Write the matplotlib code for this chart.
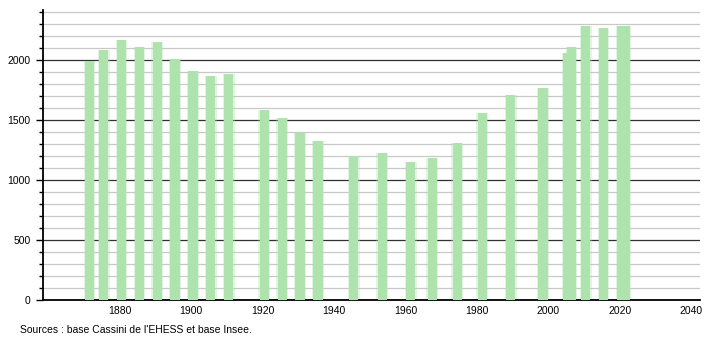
import matplotlib.pyplot as plt
from matplotlib.ticker import MultipleLocator

plt.rcParams['font.family'] = ['Liberation Sans', 'DejaVu Sans']

# census years and population
years = [1872, 1876, 1881, 1886, 1891, 1896, 1901, 1906, 1911,
         1921, 1926, 1931, 1936, 1946, 1954, 1962, 1968, 1975, 1982,
         1990, 1999, 2006, 2007, 2011, 2016, 2021, 2022]
population = [1990, 2083, 2167, 2106, 2150, 2006, 1906, 1867, 1883,
              1583, 1514, 1389, 1325, 1203, 1225, 1150, 1183, 1306, 1558,
              1703, 1767, 2061, 2106, 2283, 2264, 2283, 2278]
xticks = [1880, 1900, 1920, 1940, 1960, 1980, 2000, 2020, 2040]
yticks = [0, 500, 1000, 1500, 2000]

fig = plt.figure(figsize=(7.1, 3.4), dpi=100)
ax = fig.add_axes([43 / 710, 40 / 340, 657 / 710, 290 / 340])

# bars sit a little left of the census year in the original
xpos = [y - 0.5 for y in years]

# soft halo then solid bar, to mimic the blurred edges
ax.bar(xpos, population, width=3.3, color='#aee3ae', alpha=0.35,
       linewidth=0, zorder=2)
ax.bar(xpos, population, width=2.6, color='#aee3ae', linewidth=0, zorder=3)

ax.set_xlim(1858.5, 2042.5)
ax.set_ylim(0, 2415)

ax.set_xticks(xticks)
ax.set_yticks(yticks)
ax.yaxis.set_minor_locator(MultipleLocator(100))

ax.grid(axis='y', which='minor', color='#c8c8c8', linewidth=0.9, zorder=1)
ax.grid(axis='y', which='major', color='#303030', linewidth=0.9, zorder=1)
ax.grid(axis='x', visible=False)

for side in ['top', 'right']:
    ax.spines[side].set_visible(False)
ax.spines['left'].set_linewidth(1.3)
ax.spines['bottom'].set_linewidth(1.3)

ax.tick_params(axis='y', which='major', length=5, width=1, labelsize=7.5, pad=4)
ax.tick_params(axis='y', which='minor', length=3, width=1)
ax.tick_params(axis='x', length=0, labelsize=7.5, pad=4)

fig.text(20 / 710, 10 / 340, "Sources : base Cassini de l'EHESS et base Insee.",
         fontsize=7.5, ha='left', va='center')

fig.savefig('out.png', dpi=100)
